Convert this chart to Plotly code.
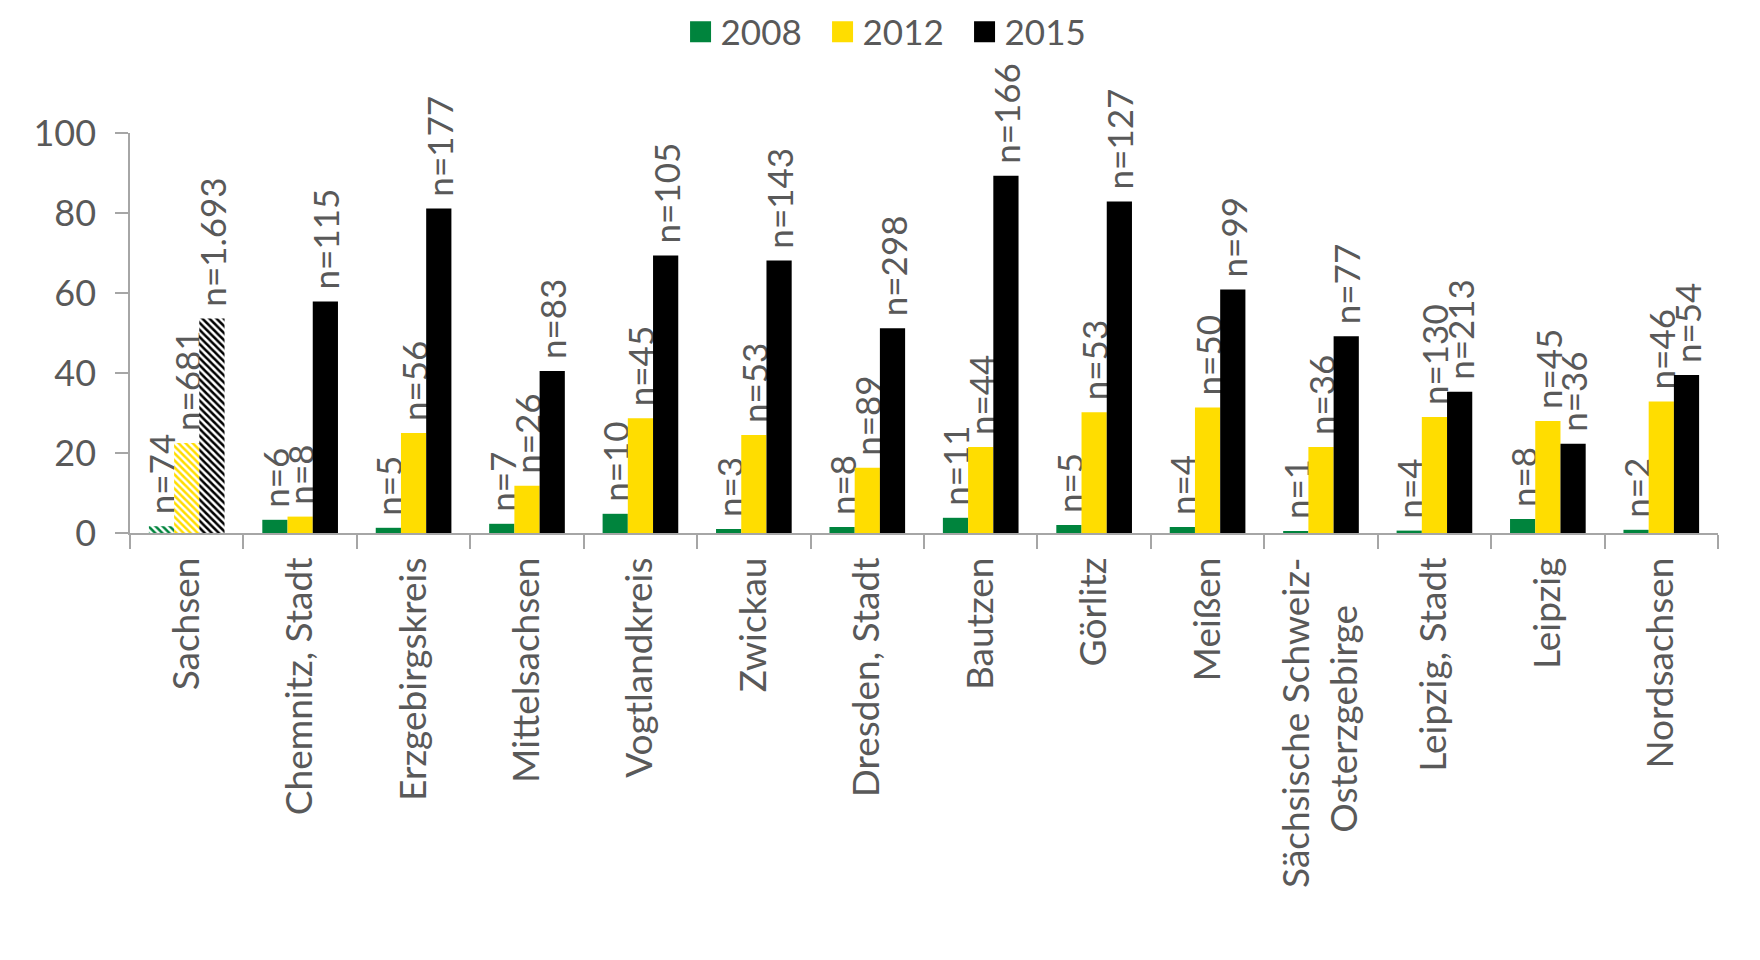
import plotly.graph_objects as go

NB = "\u00a0"
categories = ["Sachsen", "Chemnitz, Stadt", "Erzgebirgskreis", "Mittelsachsen", "Vogtlandkreis",
              "Zwickau", "Dresden, Stadt", "Bautzen", "Görlitz", "Meißen",
              "Sächsische Schweiz-<br>Osterzgebirge" + NB * 5, "Leipzig, Stadt", "Leipzig", "Nordsachsen"]

years = ["2008", "2012", "2015"]

values_2008 = [1.7, 3.3, 1.3, 2.3, 4.8, 1.0, 1.5, 3.8, 2.0, 1.5, 0.4, 0.6, 3.5, 0.8]
values_2012 = [22.5, 4.1, 25.0, 11.8, 28.7, 24.5, 16.3, 21.5, 30.2, 31.4, 21.5, 29.0, 28.0, 32.9]
values_2015 = [53.6, 57.9, 81.1, 40.5, 69.4, 68.1, 51.2, 89.3, 82.9, 60.9, 49.2, 35.3, 22.3, 39.5]

n_2008 = ["74", "6", "5", "7", "10", "3", "8", "11", "5", "4", "1", "4", "8", "2"]
n_2012 = ["681", "8", "56", "26", "45", "53", "89", "44", "53", "50", "36", "130", "45", "46"]
n_2015 = ["1.693", "115", "177", "83", "105", "143", "298", "166", "127", "99", "77", "213", "36", "54"]

colors = ["#00843D", "#FFDD00", "#000000"]
text_color = "#595959"
axis_color = "#A6A6A6"
FONT = "Lato"

series = [values_2008, values_2012, values_2015]
ns = [n_2008, n_2012, n_2015]

fig = go.Figure()
for year, vals, nn, col in zip(years, series, ns, colors):
    shapes = ["\\"] + [""] * (len(categories) - 1)
    fig.add_trace(go.Bar(
        x=categories, y=vals, name=year, showlegend=False,
        marker=dict(color=col, line=dict(width=0),
                    pattern=dict(shape=shapes, fgcolor=col, bgcolor="white",
                                 size=5, solidity=0.5, fillmode="replace")),
        text=[" n=" + v for v in nn], textposition="outside", textangle=-90,
        textfont=dict(family=FONT, size=35, color=text_color),
        constraintext="none", cliponaxis=False,
    ))
    fig.add_trace(go.Scatter(
        x=[None], y=[None], mode="markers", name=year, showlegend=True,
        marker=dict(symbol="square", size=16, color=col, line=dict(color=col, width=5)),
    ))

fig.update_layout(
    width=1760, height=960,
    margin=dict(l=130, r=42, t=133, b=427),
    paper_bgcolor="white", plot_bgcolor="white",
    barmode="group", bargap=0.333, bargroupgap=0,
    font=dict(family=FONT, size=35, color=text_color),
    legend=dict(orientation="h", xref="container", x=0.5077, xanchor="center",
                yref="container", y=1 - 32 / 960, yanchor="middle",
                font=dict(family=FONT, size=35, color=text_color),
                itemsizing="trace", entrywidth=97, entrywidthmode="pixels"),
)
fig.update_xaxes(type="category", showline=True, linecolor=axis_color, linewidth=1.5,
                 ticks="outside", tickson="boundaries", ticklen=14, tickcolor=axis_color,
                 tickwidth=1.5, tickangle=-90, showgrid=False, ticklabelstandoff=8,
                 tickfont=dict(family=FONT, size=37, color=text_color))
fig.update_yaxes(range=[0, 100], dtick=20, showline=True, linecolor=axis_color, linewidth=1.5,
                 ticks="outside", ticklen=13, tickcolor=axis_color, tickwidth=1.5,
                 showgrid=False, zeroline=False, ticklabelstandoff=12,
                 tickfont=dict(family=FONT, size=36, color=text_color))

fig.write_html("out.html")
